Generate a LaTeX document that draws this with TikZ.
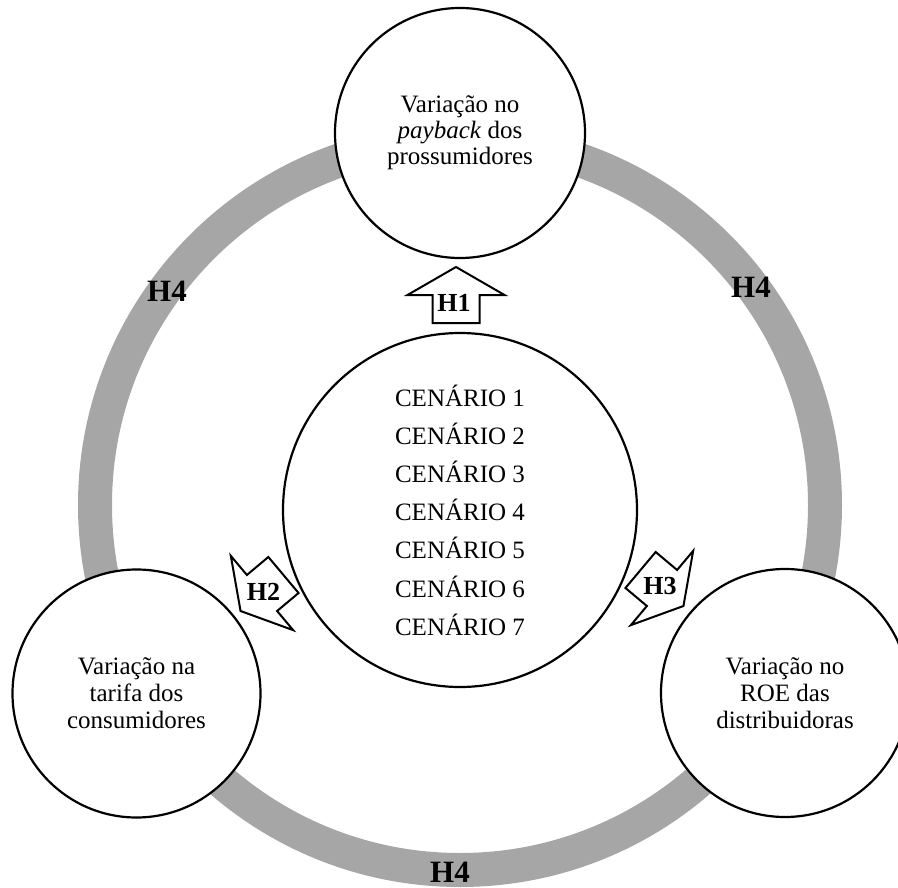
\documentclass[tikz,border=0pt]{standalone}
\usepackage{fontspec}
\setmainfont{Liberation Serif}
\definecolor{ringgray}{RGB}{166,166,166}
\begin{document}
\begin{tikzpicture}[x=1pt,y=-1pt,
  ring/.style={circle, draw=ringgray, line width=34pt, minimum size=730pt, inner sep=0pt},
  bubble/.style={circle, draw=black, line width=2.2pt, fill=white, inner sep=0pt, align=center,
    font=\fontsize{25}{27}\selectfont},
  hlabel/.style={font=\fontsize{31}{31}\selectfont\bfseries, inner sep=0pt},
  hsmall/.style={font=\fontsize{26}{26}\selectfont\bfseries, inner sep=0pt},
  arrowline/.style={draw=black, line width=2pt, fill=white, line join=miter},
  hyparrow/.pic={
    \draw[arrowline] (0,-28) -- (48.5,0) -- (23.5,0) -- (23.5,28) -- (-23.5,28)
      -- (-23.5,0) -- (-48.5,0) -- cycle;
  }]
\useasboundingbox (0,0) rectangle (898,888);

% grey cycle
\node[ring] (cycle) at (460,505) {};

% outer circles
\node[bubble, minimum size=250pt, font=\fontsize{25}{26}\selectfont] (payback) at (460,133)
  {Variação no\\\textit{payback} dos\\prossumidores};
\node[bubble, minimum size=248pt] (tarifa) at (136.5,693.5)
  {Variação na\\tarifa dos\\consumidores};
\node[bubble, minimum size=248pt] (roe) at (785,693)
  {Variação no\\ROE das\\distribuidoras};

% central circle
\node[bubble, minimum size=354pt, font=\fontsize{25}{38.2}\selectfont] (cenarios) at (460,510)
  {CENÁRIO 1\\CENÁRIO 2\\CENÁRIO 3\\CENÁRIO 4\\CENÁRIO 5\\CENÁRIO 6\\CENÁRIO 7};

% hypothesis arrows
\pic at (456,295) {hyparrow};
\pic[rotate=130] at (262,593) {hyparrow};
\pic[rotate=230] at (662,588) {hyparrow};
\node[hsmall] (h1) at (454,302.5) {H1};
\node[hsmall] (h2) at (263.5,592) {H2};
\node[hsmall] (h3) at (660,586) {H3};

% H4 labels on the cycle
\node[hlabel] (h4a) at (167,291.5) {H4};
\node[hlabel] (h4b) at (751,287) {H4};
\node[hlabel] (h4c) at (450,872) {H4};
\end{tikzpicture}
\end{document}
